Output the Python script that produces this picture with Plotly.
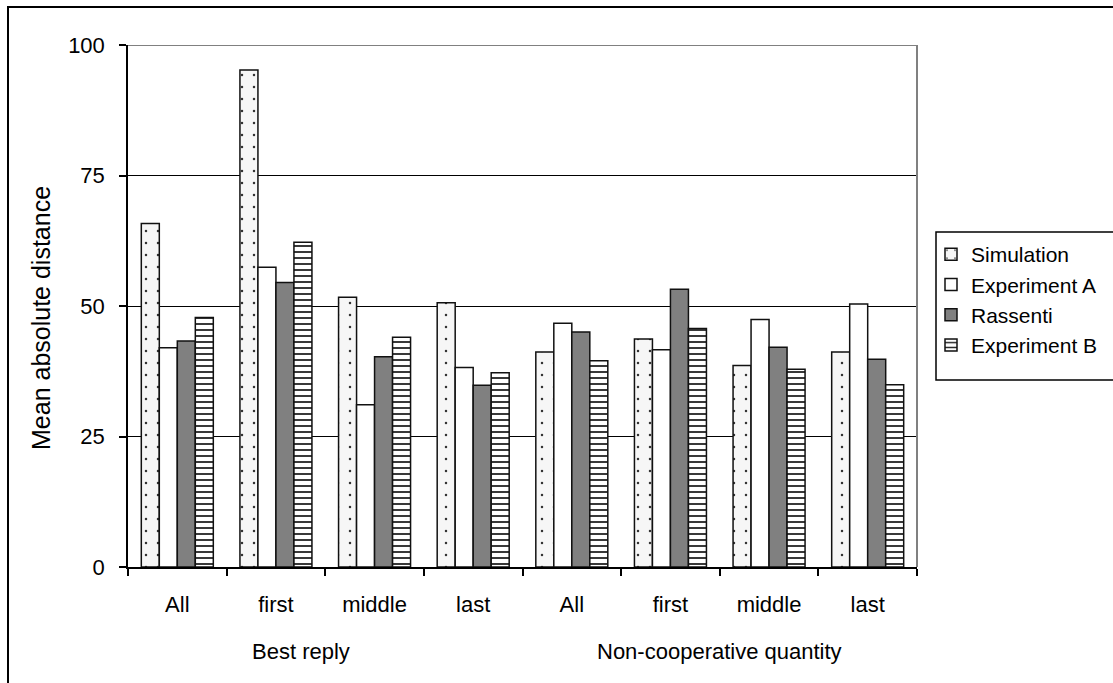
import plotly.graph_objects as go

# Mean absolute distance by period, for two benchmarks
groups = ["Best reply", "Non-cooperative quantity"]
periods = ["All", "first", "middle", "last"]

simulation = [65.8, 95.2, 51.7, 50.6, 41.2, 43.7, 38.6, 41.2]
experiment_a = [42.0, 57.4, 31.1, 38.2, 46.7, 41.6, 47.4, 50.4]
rassenti = [43.3, 54.5, 40.3, 34.8, 45.0, 53.2, 42.1, 39.8]
experiment_b = [47.8, 62.2, 44.0, 37.2, 39.5, 45.7, 37.9, 34.9]

y_ticks = [0, 25, 50, 75, 100]
y_title = "Mean absolute distance"

# unique category keys, labelled by period only
keys = [f"{g}|{p}" for g in groups for p in periods]
labels = [p for g in groups for p in periods]

FONT = "Liberation Sans, Arial, sans-serif"

W, H = 1113, 683
ML, MR, MT, MB = 128, 196, 45, 116
PW, PH = W - ML - MR, H - MT - MB


def px_x(px):
    return (px - ML) / PW


def px_y(py):
    return (H - MB - py) / PH


series = [
    ("Simulation", simulation, dict(color="#f6f6f6",
                                    pattern=dict(shape=".", fgcolor="#333333", bgcolor="#f6f6f6",
                                                 size=12, solidity=0.035, fillmode="replace"))),
    ("Experiment A", experiment_a, dict(color="white")),
    ("Rassenti", rassenti, dict(color="#808080")),
    ("Experiment B", experiment_b, dict(color="white",
                                        pattern=dict(shape="-", fgcolor="#222222", bgcolor="white",
                                                     size=6, solidity=0.3, fillmode="replace"))),
]

fig = go.Figure()
for name, vals, marker in series:
    fig.add_trace(go.Bar(
        name=name, x=keys, y=vals,
        marker=dict(**marker, line=dict(color="#111111", width=1.5)),
    ))

fig.update_layout(
    width=W, height=H,
    margin=dict(l=ML, r=MR, t=MT, b=MB, pad=0, autoexpand=False),
    paper_bgcolor="white", plot_bgcolor="white",
    font=dict(family=FONT, size=22, color="black"),
    barmode="group", bargap=0.27, bargroupgap=0,
    showlegend=True,
    legend=dict(x=px_x(931), y=px_y(234), xanchor="left", yanchor="top",
                bgcolor="rgba(0,0,0,0)", borderwidth=0,
                font=dict(family=FONT, size=21, color="black"),
                tracegroupgap=0, itemwidth=30),
)

fig.update_xaxes(
    type="category", tickvals=keys, ticktext=labels,
    tickson="boundaries", ticks="outside", ticklen=7, tickwidth=1.5, tickcolor="black",
    showline=True, linecolor="black", linewidth=1.5,
    showgrid=False, zeroline=False,
    tickfont=dict(family=FONT, size=22), ticklabelstandoff=17,
)

fig.update_yaxes(
    range=[0, 100], tickvals=y_ticks, ticktext=[str(v) for v in y_ticks],
    ticks="outside", ticklen=7, tickwidth=1.5, tickcolor="black",
    showline=True, linecolor="black", linewidth=1.5,
    showgrid=True, gridcolor="black", gridwidth=1,
    zeroline=False,
    tickfont=dict(family=FONT, size=22), ticklabelstandoff=10,
)

# y-axis title
fig.add_annotation(text=y_title, textangle=-90, xref="paper", yref="paper",
                   x=px_x(41), y=px_y(318), xanchor="center", yanchor="middle",
                   showarrow=False, font=dict(family=FONT, size=25))

# plot-area border (top and right) in grey
fig.add_shape(type="line", xref="paper", yref="y", x0=0, x1=1, y0=y_ticks[-1], y1=y_ticks[-1],
              line=dict(color="#808080", width=2), layer="above")
fig.add_shape(type="line", xref="paper", yref="paper", x0=1, x1=1, y0=0, y1=1,
              line=dict(color="#808080", width=2), layer="above")

# group labels under the period labels
fig.add_annotation(text=groups[0], x=1.25, xref="x", y=px_y(651), yref="paper",
                   yanchor="middle", showarrow=False, font=dict(family=FONT, size=22))
fig.add_annotation(text=groups[1], x=5.5, xref="x", y=px_y(651), yref="paper",
                   yanchor="middle", showarrow=False, font=dict(family=FONT, size=22))

# legend frame
fig.add_shape(type="rect", xref="paper", yref="paper",
              x0=px_x(936), x1=px_x(1125), y0=px_y(380), y1=px_y(232),
              line=dict(color="black", width=1.5), layer="above")

# outer chart frame
fig.add_shape(type="rect", xref="paper", yref="paper",
              x0=px_x(8), x1=px_x(1130), y0=px_y(700), y1=px_y(7),
              line=dict(color="black", width=2), layer="above")

fig.write_html("out.html")
